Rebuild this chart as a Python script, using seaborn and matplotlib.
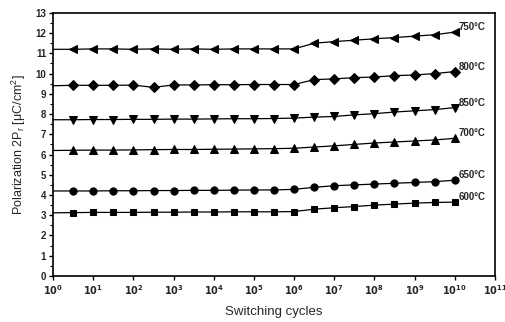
import numpy as np
import pandas as pd
import matplotlib
matplotlib.use("Agg")
import matplotlib.pyplot as plt
import seaborn as sns

# x positions: exponents of switching cycles (10^0 ... 10^10, half-decade steps)
exponents = [0, 0.5, 1, 1.5, 2, 2.5, 3, 3.5, 4, 4.5, 5, 5.5, 6,
             6.5, 7, 7.5, 8, 8.5, 9, 9.5, 10]

p750 = [11.2, 11.2, 11.22, 11.22, 11.2, 11.22, 11.2, 11.22, 11.2, 11.22, 11.22, 11.22, 11.22,
        11.5, 11.58, 11.65, 11.72, 11.78, 11.85, 11.92, 12.05]
p800 = [9.4, 9.42, 9.42, 9.42, 9.43, 9.32, 9.44, 9.44, 9.45, 9.45, 9.46, 9.46, 9.46,
        9.7, 9.74, 9.8, 9.83, 9.9, 9.93, 10.0, 10.1]
p850 = [7.72, 7.72, 7.73, 7.73, 7.74, 7.74, 7.75, 7.75, 7.76, 7.77, 7.77, 7.78, 7.8,
        7.85, 7.88, 7.96, 8.02, 8.1, 8.16, 8.22, 8.32]
p700 = [6.2, 6.21, 6.22, 6.22, 6.23, 6.24, 6.25, 6.25, 6.26, 6.27, 6.28, 6.29, 6.31,
        6.37, 6.43, 6.5, 6.57, 6.62, 6.67, 6.72, 6.8]
p650 = [4.2, 4.2, 4.2, 4.21, 4.21, 4.22, 4.22, 4.23, 4.23, 4.24, 4.25, 4.25, 4.28,
        4.38, 4.46, 4.5, 4.54, 4.58, 4.62, 4.66, 4.73]
p600 = [3.12, 3.13, 3.14, 3.14, 3.14, 3.15, 3.15, 3.16, 3.16, 3.17, 3.17, 3.17, 3.18,
        3.3, 3.37, 3.43, 3.5, 3.55, 3.6, 3.63, 3.65]

series_labels = ["750°C", "800°C", "850°C", "700°C", "650°C", "600°C"]
series_values = [p750, p800, p850, p700, p650, p600]
series_markers = ["<", "D", "v", "^", "o", "s"]
marker_sizes = [5.5, 4.8, 5.5, 5.5, 5.2, 4.8]

x_tick_exps = list(range(0, 12))
y_ticks = list(range(0, 14))

sns.set_theme(style="ticks")
plt.rcParams["font.family"] = ["Liberation Sans", "DejaVu Sans"]

fig = plt.figure(figsize=(5.06, 3.22), dpi=100)
ax = fig.add_axes([0.105, 0.143, 0.873, 0.817])

xvals = [10 ** e for e in exponents]
for lab, vals, mk, ms in zip(series_labels, series_values, series_markers, marker_sizes):
    df = pd.DataFrame({"cycles": xvals, "P": vals})
    sns.lineplot(data=df, x="cycles", y="P", ax=ax, color="black", linewidth=0.9,
                 marker=mk, markersize=ms, markeredgecolor="black",
                 markerfacecolor="black", markevery=list(range(1, len(vals))),
                 clip_on=False, zorder=3)
    ax.text(10 ** (exponents[-1] + 0.1), vals[-1] + 0.25, lab, fontsize=7,
            fontweight="bold", ha="left", va="center")

ax.set_xscale("log")
ax.set_xlim(1, 1e11)
ax.set_ylim(0, 13)
ax.set_xticks([10 ** e for e in x_tick_exps])
ax.set_xticklabels([r"$\mathbf{10^{%d}}$" % e for e in x_tick_exps], fontsize=7)
ax.xaxis.set_minor_locator(matplotlib.ticker.NullLocator())
ax.set_yticks(y_ticks)
ax.set_yticklabels([str(v) for v in y_ticks], fontsize=7, fontweight="bold")
ax.yaxis.set_minor_locator(matplotlib.ticker.MultipleLocator(0.5))
ax.tick_params(axis="both", which="major", direction="out", length=3, width=1,
               color="black", pad=2)
ax.tick_params(axis="y", which="minor", direction="out", length=2, width=0.8, color="black")
for s in ax.spines.values():
    s.set_visible(True)
    s.set_color("black")
    s.set_linewidth(1.2)

ax.set_xlabel("Switching cycles", fontsize=9.5, labelpad=7)
ax.set_ylabel("Polarization 2P$_\\mathregular{r}$ [μC/cm$^\\mathregular{2}$]", fontsize=9, labelpad=5)
ax.grid(False)

fig.savefig("out.png", dpi=100)
